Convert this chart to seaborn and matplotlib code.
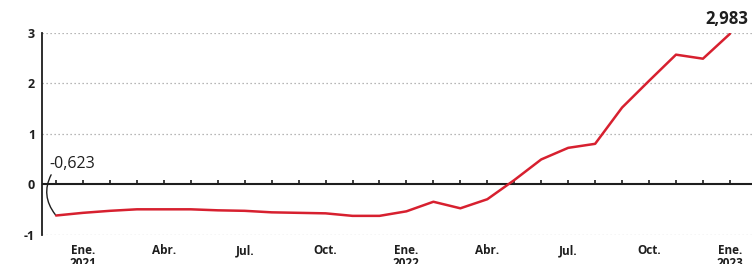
import matplotlib
matplotlib.use("Agg")
import matplotlib.pyplot as plt
import seaborn as sns
import pandas as pd

# Monthly series, Dec 2020 .. Jan 2023
months = pd.date_range("2020-12-01", "2023-01-01", freq="MS")
values = [-0.623, -0.57, -0.53, -0.50, -0.50, -0.50, -0.52, -0.53,
          -0.56, -0.57, -0.58, -0.63, -0.63, -0.54, -0.35, -0.48,
          -0.30, 0.08, 0.49, 0.72, 0.80, 1.52, 2.05, 2.57, 2.49, 2.983]
tick_idx = [1, 4, 7, 10, 13, 16, 19, 22, 25]
tick_labels = ["Ene.\n2021", "Abr.", "Jul.", "Oct.", "Ene.\n2022",
               "Abr.", "Jul.", "Oct.", "Ene.\n2023"]
y_ticks = [-1, 0, 1, 2, 3]
grid_vals = [-1, 1, 2, 3]
first_label = "-0,623"
last_label = "2,983"

df = pd.DataFrame({"idx": range(len(months)), "value": values})

sns.set_theme(style="white")
plt.rcParams["font.family"] = ["Open Sans", "DejaVu Sans"]

fig = plt.figure(figsize=(7.52, 2.64), dpi=100)
ax = fig.add_axes([42 / 752, 1 - 234.5 / 264, 1 - 42 / 752, (234.5 - 33) / 264])

for g in grid_vals:
    ax.axhline(g, color="#a0a0a0", lw=0.9, ls=(0, (1, 2.2)), zorder=1)

ax.axhline(0, color="#1e1e1e", lw=1.5, zorder=2)
ax.vlines(df["idx"], 0, 0.08, color="#1e1e1e", lw=1.2, zorder=2)

sns.lineplot(data=df, x="idx", y="value", ax=ax, color="#d7202f", lw=1.8, zorder=3)

ax.set_xlim(-0.52, 25.82)
ax.set_ylim(-1, 3)
ax.set_xlabel("")
ax.set_ylabel("")

ax.set_yticks(y_ticks)
ax.set_yticklabels([str(v) for v in y_ticks], fontsize=9, fontweight="bold", color="#1e1e1e")
ax.set_xticks(tick_idx)
ax.set_xticklabels(tick_labels, fontsize=8.5, fontweight="bold", color="#1e1e1e", linespacing=1.0)
ax.tick_params(axis="y", length=0, pad=5)
ax.tick_params(axis="x", length=0, pad=7)

for s in ["top", "right", "bottom"]:
    ax.spines[s].set_visible(False)
ax.spines["left"].set_color("#1e1e1e")
ax.spines["left"].set_linewidth(1.3)

ax.annotate(first_label, xy=(0, values[0]), xytext=(-0.25, 0.25),
            fontsize=11.5, fontweight="medium", color="#1e1e1e", ha="left", va="bottom",
            arrowprops=dict(arrowstyle="-", color="#1e1e1e", lw=1.0,
                            shrinkA=0, shrinkB=1,
                            connectionstyle="arc3,rad=0.35",
                            relpos=(0.08, 0.0)),
            annotation_clip=False)
ax.text(24.88, 3.09, last_label, fontsize=12, fontweight="bold", color="#1e1e1e",
        ha="center", va="bottom", clip_on=False)

fig.savefig("out.png", dpi=100)
